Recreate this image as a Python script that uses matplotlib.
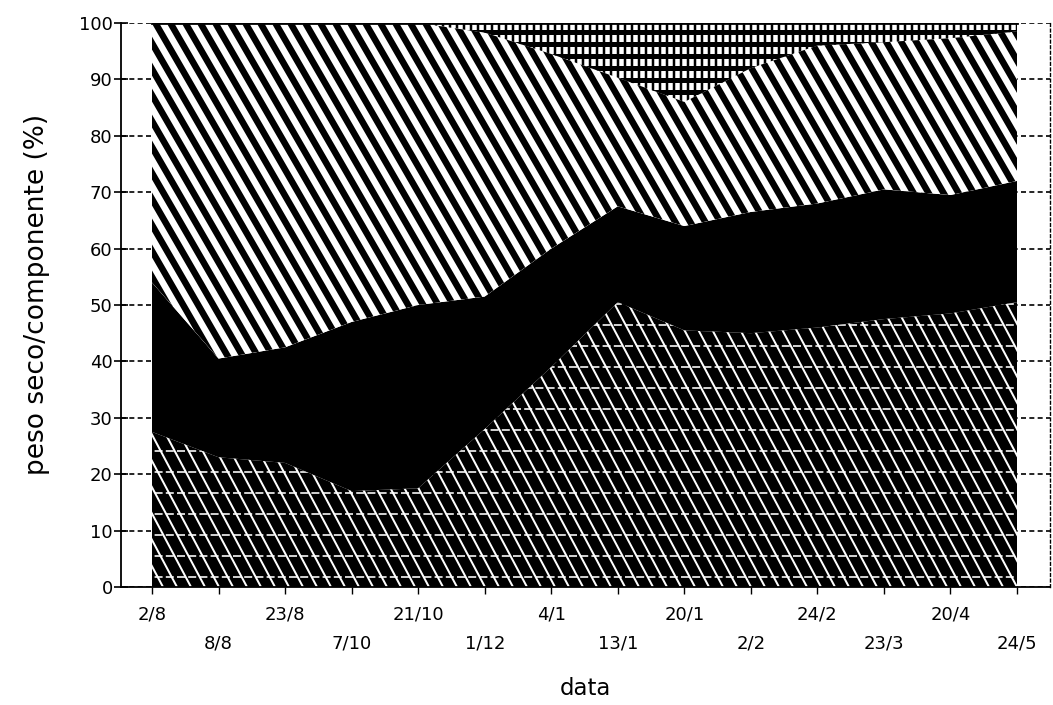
import numpy as np
import matplotlib
matplotlib.use("Agg")
import matplotlib.pyplot as plt
from matplotlib.collections import LineCollection

# datas de colheita (eixo x, espaçamento uniforme)
datas = ['2/8', '8/8', '23/8', '7/10', '21/10', '1/12', '4/1',
         '13/1', '20/1', '2/2', '24/2', '23/3', '20/4', '24/5']

# percentagem do peso seco de cada componente (de baixo para cima)
comp1 = [27.5, 23.0, 22.0, 17.0, 17.5, 28.0, 39.0, 50.5, 45.5, 45.0, 46.0, 47.5, 48.5, 50.5]
comp2 = [26.5, 17.5, 20.5, 30.0, 32.5, 23.5, 21.0, 17.0, 18.5, 21.5, 22.0, 23.0, 21.0, 21.5]
comp3 = [46.0, 59.5, 57.5, 53.0, 50.0, 46.8, 34.5, 22.8, 22.0, 25.5, 28.0, 26.1, 27.8, 26.5]
comp4 = [0.0, 0.0, 0.0, 0.0, 0.0, 1.7, 5.5, 9.7, 14.0, 8.0, 4.0, 3.4, 2.7, 1.5]

yticks = list(range(0, 101, 10))

# tamanho dos eixos em pixels (para desenhar as texturas)
W, H = 929, 564
PT = 0.72  # 1 px em pontos a 100 dpi


def diagonais(passo, angulo):
    dx = H / np.tan(np.radians(angulo))
    x0 = np.arange(-dx - passo, W + passo, passo)
    return [[(a / W, 1.0), ((a + dx) / W, 0.0)] for a in x0]


def horizontais(passo, inicio=0.0):
    return [[(0.0, b / H), (1.0, b / H)] for b in np.arange(inicio, H, passo)]


def verticais(passo):
    return [[(a / W, 0.0), (a / W, 1.0)] for a in np.arange(0, W, passo)]


def textura(ax, area, segs, cor, lw, ls='solid', z=2):
    lc = LineCollection(segs, colors=cor, linewidths=lw, linestyles=ls,
                        transform=ax.transAxes, zorder=z)
    lc.set_clip_path(area.get_paths()[0], ax.transData)
    ax.add_collection(lc, autolim=False)


fig = plt.figure(figsize=(10.53, 7.05), dpi=100)
ax = fig.add_axes([121 / 1053, 118 / 705, W / 1053, H / 705])

x = np.arange(len(datas))
topos = np.cumsum([comp1, comp2, comp3, comp4], axis=0)
bases = np.vstack([np.zeros(len(x)), topos[:-1]])

# componente 1: preto com riscas brancas finas e tracejado horizontal
a1 = ax.fill_between(x, bases[0], topos[0], facecolor='black', linewidth=0, zorder=1)
textura(ax, a1, diagonais(14, 62), 'white', 2.0 * PT)
textura(ax, a1, horizontais(21, 10), 'white', 1.6 * PT, ls=(0, (5, 2)))

# componente 2: preto
ax.fill_between(x, bases[1], topos[1], facecolor='black', linewidth=0, zorder=1)

# componente 3: branco com riscas pretas largas
a3 = ax.fill_between(x, bases[2], topos[2], facecolor='white', linewidth=0, zorder=1)
textura(ax, a3, diagonais(15, 60), 'black', 6.5 * PT)

# componente 4: quadriculado fino
a4 = ax.fill_between(x, bases[3], topos[3], facecolor='white', linewidth=0, zorder=1)
textura(ax, a4, horizontais(12, 3), 'black', 5 * PT)
textura(ax, a4, verticais(7), 'black', 2.5 * PT)

# linha no topo das áreas
ax.plot(x, topos[3], color='black', linewidth=2, zorder=3)

ax.set_xlim(-0.466, 13.496)
ax.set_ylim(0, 100)

ax.set_axisbelow(True)
ax.yaxis.grid(True, linestyle=(0, (3, 2)), color='black', linewidth=1.2)
ax.spines['top'].set_visible(False)
ax.spines['right'].set_linestyle((0, (2, 2)))
ax.spines['right'].set_linewidth(1.0)
ax.spines['left'].set_linewidth(1.3)
ax.spines['bottom'].set_linewidth(1.3)

ax.set_yticks(yticks)
ax.set_yticklabels([str(v) for v in yticks])
ax.tick_params(axis='y', direction='inout', length=10, width=1.2, pad=1, labelsize=13)

ax.set_xticks(x)
ax.set_xticklabels(datas)
ax.tick_params(axis='x', direction='out', length=5, width=1, pad=8, labelsize=13)
for i, t in enumerate(ax.xaxis.get_major_ticks()):
    if i % 2:
        t.set_pad(29)

ax.set_ylabel('peso seco/componente (%)', fontsize=19)
ax.yaxis.set_label_coords(-0.076, 0.518)
ax.set_xlabel('data', fontsize=16.5)
ax.xaxis.set_label_coords(0.5, -0.16)

fig.savefig('out.png', dpi=100)
